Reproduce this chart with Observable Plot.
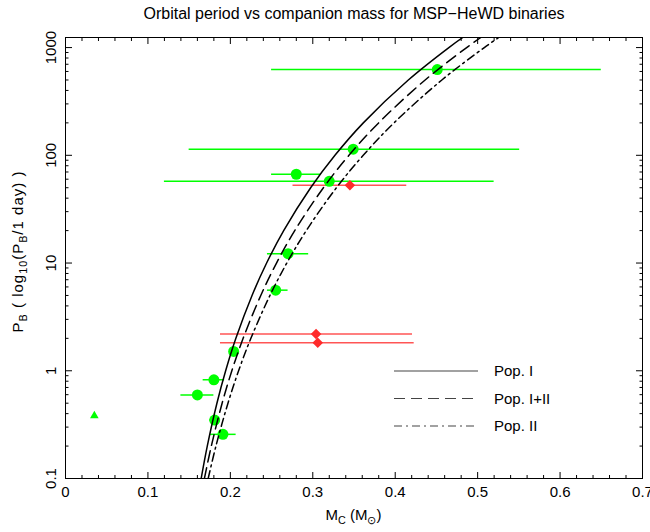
<!DOCTYPE html>
<html><head><meta charset="utf-8">
<script src="https://cdn.jsdelivr.net/npm/d3@7"></script>
<script src="https://cdn.jsdelivr.net/npm/@observablehq/plot@0.6"></script>
<style>body{margin:0;background:#fff;}</style>
</head><body><div id="chart"></div>
<script>
// ---- data ----
const titleText = "Orbital period vs companion mass for MSP\u2212HeWD binaries";

// MSP-HeWD systems (green circles): companion mass, orbital period (days), mass range
const circleMass   = [0.451, 0.349, 0.280, 0.320, 0.270, 0.255, 0.204, 0.180, 0.160, 0.181, 0.191];
const circlePb     = [625, 114, 66.7, 57.4, 12.2, 5.6, 1.51, 0.825, 0.596, 0.349, 0.257];
const circleMassLo = [0.250, 0.150, 0.250, 0.120, 0.245, 0.245, 0.204, 0.167, 0.140, 0.175, 0.176];
const circleMassHi = [0.650, 0.551, 0.310, 0.520, 0.295, 0.270, 0.204, 0.193, 0.180, 0.181, 0.207];

// red diamonds
const diamondMass   = [0.345, 0.304, 0.306];
const diamondPb     = [52.7, 2.19, 1.82];
const diamondMassLo = [0.276, 0.188, 0.188];
const diamondMassHi = [0.414, 0.421, 0.423];

// green triangle
const triangleMass = [0.035];
const trianglePb   = [0.383];

// theoretical Pb–Mc curves
const curvePb     = [0.1, 0.2, 0.5, 1, 2, 5, 10, 20, 50, 100, 200, 500, 1000, 1240];
const massPopI    = [0.1646, 0.1720, 0.1837, 0.1943, 0.2067, 0.2263, 0.2440, 0.2647, 0.2974, 0.3269, 0.3613, 0.4159, 0.4651, 0.4820];
const massPopI_II = [0.1685, 0.1769, 0.1900, 0.2018, 0.2155, 0.2369, 0.2560, 0.2781, 0.3129, 0.3439, 0.3799, 0.4363, 0.4867, 0.5039];
const massPopII   = [0.1731, 0.1825, 0.1971, 0.2100, 0.2249, 0.2480, 0.2685, 0.2921, 0.3287, 0.3612, 0.3985, 0.4566, 0.5081, 0.5256];

const legendLabels = ["Pop. I", "Pop. I+II", "Pop. II"];
const legendDash   = [null, "11,6", "8,4,2,4"];

// ticks
const xMajor = [0, 0.1, 0.2, 0.3, 0.4, 0.5, 0.6, 0.7];
const xMinor = [0.02,0.04,0.06,0.08,0.12,0.14,0.16,0.18,0.22,0.24,0.26,0.28,0.32,0.34,0.36,0.38,0.42,0.44,0.46,0.48,0.52,0.54,0.56,0.58,0.62,0.64,0.66,0.68];
const yMajor = [0.1, 1, 10, 100, 1000];
const yMajorLabels = ["0.1", "1", "10", "100", "1000"];
const yMinor = [0.2,0.3,0.4,0.5,0.6,0.7,0.8,0.9,2,3,4,5,6,7,8,9,20,30,40,50,60,70,80,90,200,300,400,500,600,700,800,900];

// ---- layout ----
const W = 650, H = 532, mL = 65, mR = 8, mT = 37, mB = 54;
const green = "#00ff00", red = "#ff2a2a";
const font = "'Liberation Sans', Arial, sans-serif";

const idxC = d3.range(circleMass.length);
const idxD = d3.range(diamondMass.length);
const idxCurve = d3.range(curvePb.length);

const plot = Plot.plot({
  width: W, height: H,
  marginLeft: mL, marginRight: mR, marginTop: mT, marginBottom: mB,
  style: {fontFamily: font, fontSize: "15px", color: "black", background: "white"},
  x: {domain: [0, 0.7], axis: null, label: null},
  y: {type: "log", domain: [0.1, 1240], axis: null, label: null},
  marks: [
    // error bars
    Plot.ruleY(idxC.filter(i => circleMassHi[i] > circleMassLo[i]), {y: i => circlePb[i], x1: i => circleMassLo[i], x2: i => circleMassHi[i], stroke: green, strokeWidth: 1.5}),
    Plot.ruleY(idxD, {y: i => diamondPb[i], x1: i => diamondMassLo[i], x2: i => diamondMassHi[i], stroke: red, strokeWidth: 1.5, strokeOpacity: 0.8}),
    // points
    Plot.dot(idxC, {x: i => circleMass[i], y: i => circlePb[i], r: 5.5, fill: green, stroke: "none"}),
    Plot.dot(idxD, {x: i => diamondMass[i], y: i => diamondPb[i], symbol: "square", rotate: 45, r: 4.2, fill: red, stroke: "none"}),
    Plot.dot([0], {x: i => triangleMass[i], y: i => trianglePb[i], symbol: "triangle", r: 3.2, fill: green, stroke: "none"}),
    // curves
    Plot.line(idxCurve, {x: i => massPopI[i], y: i => curvePb[i], stroke: "black", strokeWidth: 1.5, curve: "catmull-rom", clip: true}),
    Plot.line(idxCurve, {x: i => massPopI_II[i], y: i => curvePb[i], stroke: "black", strokeWidth: 1.5, strokeDasharray: legendDash[1], curve: "catmull-rom", clip: true}),
    Plot.line(idxCurve, {x: i => massPopII[i], y: i => curvePb[i], stroke: "black", strokeWidth: 1.5, strokeDasharray: legendDash[2], curve: "catmull-rom", clip: true}),
    // frame and inward ticks
    Plot.frame({stroke: "black", strokeWidth: 1}),
    Plot.axisX({anchor: "bottom", ticks: xMajor, tickSize: -6, fill: "none", label: null}),
    Plot.axisX({anchor: "bottom", ticks: xMinor, tickSize: -3, fill: "none", label: null}),
    Plot.axisX({anchor: "top", ticks: xMajor, tickSize: -6, fill: "none", label: null}),
    Plot.axisX({anchor: "top", ticks: xMinor, tickSize: -3, fill: "none", label: null}),
    Plot.axisY({anchor: "left", ticks: yMajor, tickSize: -7, fill: "none", label: null}),
    Plot.axisY({anchor: "left", ticks: yMinor, tickSize: -3.5, fill: "none", label: null}),
    Plot.axisY({anchor: "right", ticks: yMajor, tickSize: -7, fill: "none", label: null}),
    Plot.axisY({anchor: "right", ticks: yMinor, tickSize: -3.5, fill: "none", label: null}),
    // tick labels
    Plot.axisX({anchor: "bottom", ticks: xMajor, tickSize: 0, tickPadding: 8, tickFormat: d => d === 0 ? "0" : d3.format(".1f")(d), label: null, fontSize: 15}),
    Plot.text(yMajor, {y: d => d, text: (d, i) => yMajorLabels[i], frameAnchor: "left", rotate: -90, textAnchor: "middle", lineAnchor: "bottom", dx: -10, fontSize: 15}),
    // title
    Plot.text([titleText], {frameAnchor: "top", dy: -24, lineAnchor: "middle", fontSize: 16})
  ]
});

document.getElementById("chart").appendChild(plot);

// axis titles with subscripts and the in-plot legend
const svg = d3.select(plot);
function richText(g, parts, size) {
  const t = g.append("text").attr("font-family", font).attr("font-size", size).attr("fill", "black");
  let shifted = false;
  for (const [s, sub] of parts) {
    const ts = t.append("tspan").text(s);
    if (sub && !shifted) { ts.attr("dy", 4).attr("font-size", size * 0.72); shifted = true; }
    else if (!sub && shifted) { ts.attr("dy", -4); shifted = false; }
  }
  return t;
}
const frameCx = mL + (W - mL - mR) / 2;
richText(svg.append("g"), [["M", false], ["C", true], [" (M", false], ["\u2299", true], [")", false]], 15)
  .attr("x", frameCx).attr("y", 520).attr("text-anchor", "middle");
richText(svg.append("g"), [["P", false], ["B", true], [" ( log", false], ["10", true], ["(P", false], ["B", true], ["/1 day) )", false]], 15)
  .attr("transform", `translate(23,${(mT + H - mB) / 2 - 6}) rotate(-90)`).attr("text-anchor", "middle")
  .attr("letter-spacing", 1);

const lg = svg.append("g");
legendLabels.forEach((lab, i) => {
  const yy = 371 + i * 27.5;
  lg.append("line").attr("x1", 394).attr("x2", 478).attr("y1", yy).attr("y2", yy)
    .attr("stroke", "#444").attr("stroke-width", 1.2).attr("stroke-dasharray", legendDash[i]);
  lg.append("text").attr("x", 494).attr("y", yy + 5).attr("text-anchor", "start")
    .attr("font-family", font).attr("font-size", 15).attr("fill", "black").text(lab);
});
</script>
</body></html>
